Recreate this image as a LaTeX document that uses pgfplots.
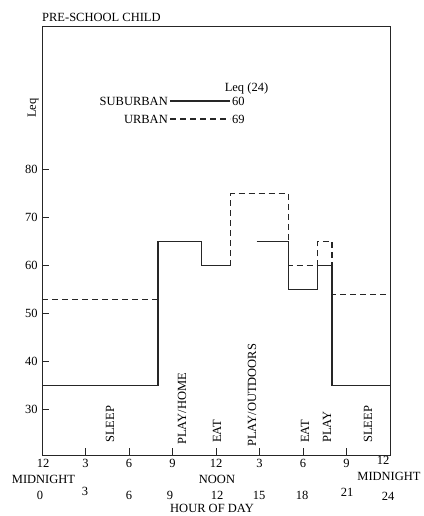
\documentclass[border=0pt]{standalone}
\usepackage{fontspec}
\setmainfont{Liberation Serif}
\usepackage{pgfplots}
\pgfplotsset{compat=1.18}
\begin{document}
\fontsize{12.5}{14}\selectfont
\begin{tikzpicture}
\begin{axis}[
  scale only axis, width=348pt, height=429pt,
  at={(0,0)}, anchor=south west,
  xmin=0, xmax=24, ymin=20.5, ymax=110,
  axis line style={line width=0.9pt, black!85},
  tick pos=left, tick align=inside,
  major tick length=7pt,
  tick style={line width=0.9pt, black!85},
  xtick={3,6,...,21}, xticklabels={},
  ytick={30,40,...,80},
  yticklabel style={font=\fontsize{12.5}{14}\selectfont, /pgf/number format/assume math mode=true},
  clip=false,
]
\addplot[const plot, line width=1.1pt, black!85] coordinates {
  (0,35) (8,35) (8,65) (11,65) (11,60) (13,60)};
\addplot[const plot, line width=1.1pt, black!85] coordinates {
  (14.8,65) (17,65) (17,55) (19,55) (19,60) (20,60) (20,35) (24,35)};
\addplot[const plot, line width=1.1pt, black!85, dash pattern=on 6pt off 4pt] coordinates {
  (0,53) (8,53) (8,65) (11,65) (11,60) (13,60) (13,75) (17,75) (17,60) (19,60) (19,65) (20,65) (20,54) (24,54)};
\end{axis}
% titles and labels
\node[anchor=west, inner sep=0] at (0pt,438pt) {PRE-SCHOOL CHILD};
\node[rotate=90, inner sep=0] at (-9pt,347pt) {Leq};
% legend
\node[anchor=east, inner sep=0] at (126pt,354pt) {SUBURBAN};
\draw[line width=1.1pt, black!85] (128pt,354pt) -- (188pt,354pt);
\node[anchor=west, inner sep=0] at (190pt,354pt) {60};
\node[anchor=east, inner sep=0] at (126pt,336pt) {URBAN};
\draw[line width=1.1pt, black!85, dash pattern=on 6pt off 4pt] (128pt,336pt) -- (188pt,336pt);
\node[anchor=west, inner sep=0] at (190pt,336pt) {69};
\node[inner sep=0] at (204.5pt,366pt) {Leq (24)};
% activities
\foreach \x/\y/\t in {68/12/SLEEP, 140/10/PLAY\slash HOME, 175/12/EAT, 210/8/PLAY\slash OUTDOORS, 263/12/EAT, 285/12/PLAY, 326/12/SLEEP}
  \node[rotate=90, anchor=west, inner sep=0] at (\x pt,\y pt) {\t};
% x labels line 1
\foreach \x/\t in {1/12, 43.5/3, 87/6, 130.5/9, 174/12, 217.5/3, 261/6, 304.5/9}
  \node[inner sep=0] at (\x pt,-8pt) {\t};
\node[inner sep=0] at (341pt,-5pt) {12};
\node[inner sep=0] at (1.5pt,-24pt) {MIDNIGHT};
\node[inner sep=0] at (175pt,-24pt) {NOON};
\node[inner sep=0] at (347pt,-21pt) {MIDNIGHT};
\foreach \x/\y/\t in {-2/-40/0, 43/-36/3, 87/-40/6, 128/-40/9, 175/-40/12, 217/-40/15, 260/-40/18, 305/-37/21, 346/-41/24}
  \node[inner sep=0] at (\x pt,\y pt) {\t};
\node[inner sep=0] at (170pt,-53.5pt) {HOUR OF DAY};
\pgfresetboundingbox
\path[use as bounding box] (-42pt,-61pt) rectangle (381pt,455pt);
\end{tikzpicture}
\end{document}
